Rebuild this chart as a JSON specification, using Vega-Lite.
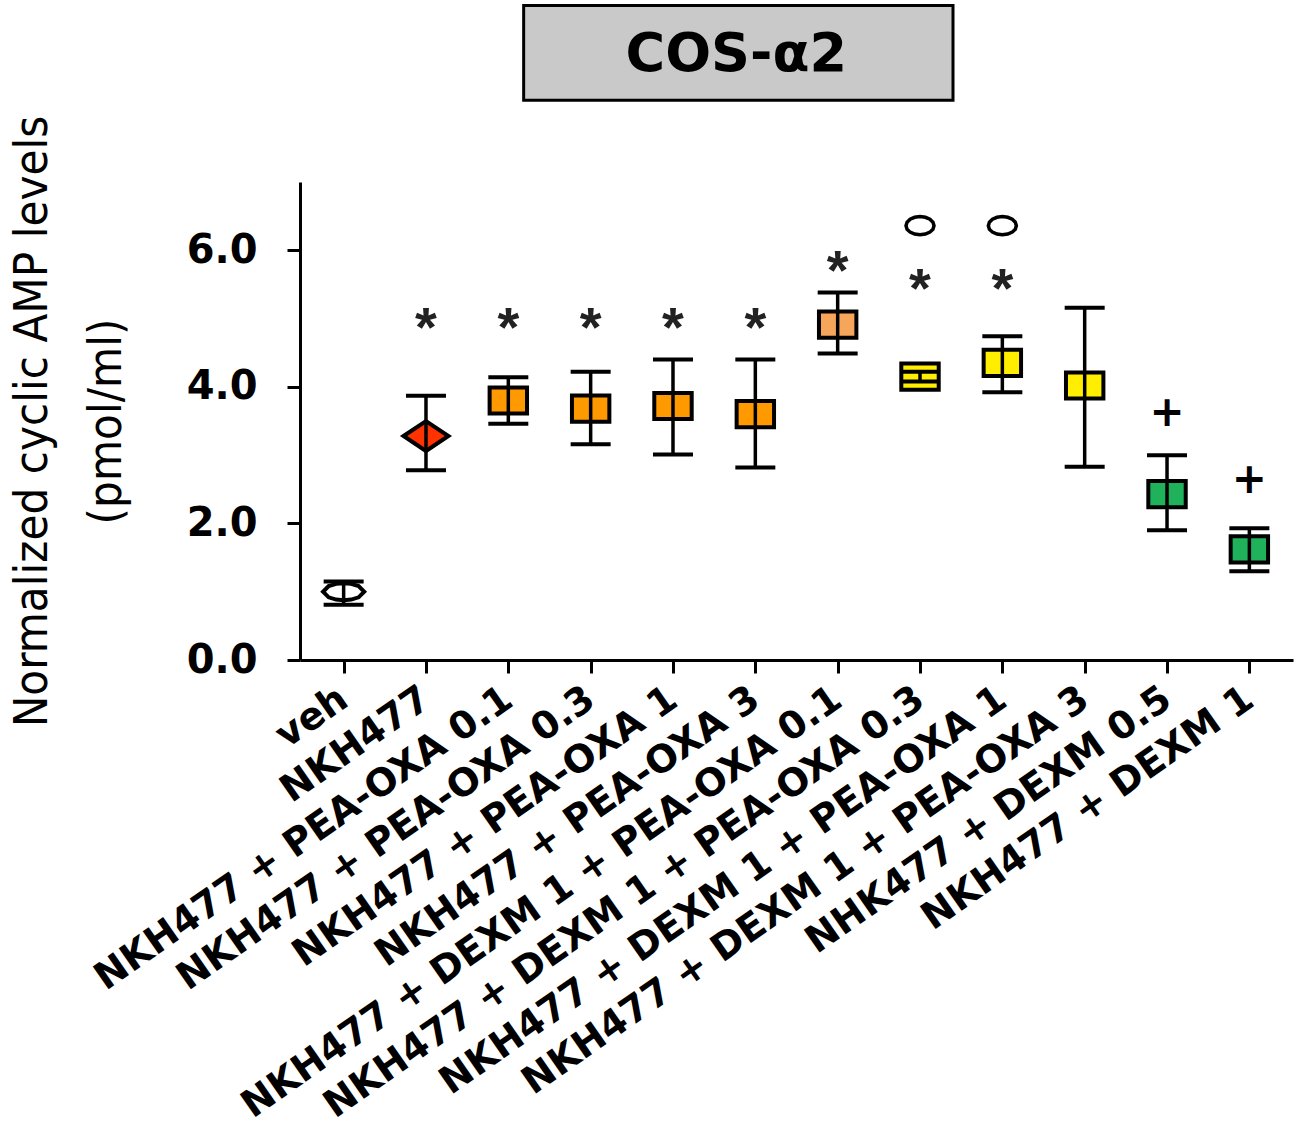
{
  "$schema": "https://vega.github.io/schema/vega-lite/v6.json",
  "autosize": "none",
  "width": 993,
  "height": 478,
  "padding": {"left": 300, "top": 182, "right": 6, "bottom": 483},
  "background": "white",
  "config": {"view": {"stroke": null}},
  "data": {
    "values": [
      {"group": "veh", "kind": "vehicle", "mean": 1.0, "lo": 0.81, "hi": 1.15},
      {"group": "NKH477", "kind": "forskolin", "mean": 3.28, "lo": 2.78, "hi": 3.87, "star": 5.03},
      {"group": "NKH477 + PEA-OXA 0.1", "kind": "pea", "mean": 3.8, "lo": 3.46, "hi": 4.14, "star": 5.03},
      {"group": "NKH477 + PEA-OXA 0.3", "kind": "pea", "mean": 3.68, "lo": 3.16, "hi": 4.22, "star": 5.03},
      {"group": "NKH477 + PEA-OXA 1", "kind": "pea", "mean": 3.72, "lo": 3.01, "hi": 4.4, "star": 5.03},
      {"group": "NKH477 + PEA-OXA 3", "kind": "pea", "mean": 3.6, "lo": 2.82, "hi": 4.4, "star": 5.03},
      {"group": "NKH477 + DEXM 1 + PEA-OXA 0.1", "kind": "dexm_pea_low", "mean": 4.91, "lo": 4.49, "hi": 5.38, "star": 5.86},
      {"group": "NKH477 + DEXM 1 + PEA-OXA 0.3", "kind": "dexm_pea", "mean": 4.15, "lo": 4.08, "hi": 4.22, "star": 5.6, "circle": 6.36},
      {"group": "NKH477 + DEXM 1 + PEA-OXA 1", "kind": "dexm_pea", "mean": 4.35, "lo": 3.92, "hi": 4.74, "star": 5.6, "circle": 6.36},
      {"group": "NKH477 + DEXM 1 + PEA-OXA 3", "kind": "dexm_pea", "mean": 4.02, "lo": 2.83, "hi": 5.16},
      {"group": "NHK477 + DEXM 0.5", "kind": "dexm", "mean": 2.43, "lo": 1.9, "hi": 3.0, "plus": 3.62},
      {"group": "NKH477 + DEXM 1", "kind": "dexm", "mean": 1.62, "lo": 1.3, "hi": 1.93, "plus": 2.64}
    ]
  },
  "encoding": {
    "x": {
      "field": "group",
      "type": "nominal",
      "sort": null,
      "scale": {"type": "point", "padding": 0.53},
      "axis": {
        "orient": "bottom",
        "title": null,
        "domainColor": "black",
        "domainWidth": 3,
        "tickColor": "black",
        "tickWidth": 3,
        "tickSize": 13,
        "labelAngle": -35,
        "labelAlign": "right",
        "labelBaseline": "middle",
        "labelFont": "DejaVu Sans",
        "labelFontWeight": "bold",
        "labelFontSize": 38,
        "labelColor": "black",
        "labelPadding": 22,
        "labelLimit": 2000,
        "labelOverlap": false
      }
    }
  },
  "layer": [
    {
      "mark": {"type": "point", "filled": true, "stroke": "black", "strokeWidth": 4, "size": 1400, "opacity": 1},
      "encoding": {
        "y": {
          "field": "mean",
          "type": "quantitative",
          "scale": {"domain": [0, 7], "nice": false},
          "axis": {
            "values": [0, 2, 4, 6],
            "format": ".1f",
            "grid": false,
            "domainColor": "black",
            "domainWidth": 3,
            "tickColor": "black",
            "tickWidth": 3,
            "tickSize": 13,
            "labelFont": "DejaVu Sans",
            "labelFontWeight": "bold",
            "labelFontSize": 40,
            "labelColor": "black",
            "labelPadding": 30,
            "title": ["Normalized cyclic AMP levels", "(pmol/ml)"],
            "titleFont": "DejaVu Sans Condensed, Liberation Sans, sans-serif",
            "titleFontWeight": "normal",
            "titleFontSize": 47,
            "titleColor": "black",
            "titleLineHeight": 74,
            "titlePadding": 56
          }
        },
        "fill": {
          "field": "kind",
          "type": "nominal",
          "legend": null,
          "scale": {
            "domain": ["vehicle", "forskolin", "pea", "dexm_pea_low", "dexm_pea", "dexm"],
            "range": ["#ffffff", "#ff3300", "#ff9900", "#f6a65a", "#ffee00", "#1fb25a"]
          }
        },
        "shape": {
          "field": "kind",
          "type": "nominal",
          "legend": null,
          "scale": {
            "domain": ["vehicle", "forskolin", "pea", "dexm_pea_low", "dexm_pea", "dexm"],
            "range": [
              "M-1.1,0L-0.8,-0.3L-0.4,-0.42L0,-0.45L0.4,-0.42L0.8,-0.3L1.1,0L0.8,0.3L0.4,0.42L0,0.45L-0.4,0.42L-0.8,0.3Z",
              "M-1.2,0L0,-0.8L1.2,0L0,0.8Z",
              "M-1,-0.7L1,-0.7L1,0.7L-1,0.7Z",
              "M-1,-0.7L1,-0.7L1,0.7L-1,0.7Z",
              "M-1,-0.7L1,-0.7L1,0.7L-1,0.7Z",
              "M-1,-0.7L1,-0.7L1,0.7L-1,0.7Z"
            ]
          }
        }
      }
    },
    {
      "mark": {"type": "rule", "color": "black", "strokeWidth": 3.5, "opacity": 1},
      "encoding": {
        "y": {"field": "lo", "type": "quantitative"},
        "y2": {"field": "hi"}
      }
    },
    {
      "mark": {"type": "tick", "color": "black", "thickness": 4, "size": 40, "orient": "horizontal", "opacity": 1},
      "encoding": {"y": {"field": "lo", "type": "quantitative"}}
    },
    {
      "mark": {"type": "tick", "color": "black", "thickness": 4, "size": 40, "orient": "horizontal", "opacity": 1},
      "encoding": {"y": {"field": "hi", "type": "quantitative"}}
    },
    {
      "transform": [{"filter": "isValid(datum.star)"}],
      "mark": {"type": "text", "text": "*", "font": "Liberation Sans", "fontWeight": "bold", "fontSize": 56, "baseline": "middle", "dy": 12, "color": "#222222"},
      "encoding": {"y": {"field": "star", "type": "quantitative"}}
    },
    {
      "transform": [{"filter": "isValid(datum.circle)"}],
      "mark": {
        "type": "point",
        "shape": "M1,0L0.924,0.249L0.707,0.46L0.383,0.6L0,0.65L-0.383,0.6L-0.707,0.46L-0.924,0.249L-1,0L-0.924,-0.249L-0.707,-0.46L-0.383,-0.6L0,-0.65L0.383,-0.6L0.707,-0.46L0.924,-0.249Z",
        "filled": false,
        "stroke": "black",
        "strokeWidth": 3.5,
        "size": 784,
        "opacity": 1
      },
      "encoding": {"y": {"field": "circle", "type": "quantitative"}}
    },
    {
      "transform": [{"filter": "isValid(datum.plus)"}],
      "mark": {"type": "text", "text": "+", "font": "DejaVu Sans", "fontWeight": "bold", "fontSize": 42, "baseline": "middle", "color": "black"},
      "encoding": {"y": {"field": "plus", "type": "quantitative"}}
    },
    {
      "data": {"values": [{"title": "COS-α2"}]},
      "mark": {"type": "rect", "fill": "#c9c9c9", "stroke": "black", "strokeWidth": 3, "xOffset": -67, "x2Offset": 33},
      "encoding": {
        "x": {"datum": "NKH477 + PEA-OXA 0.3"},
        "x2": {"datum": "NKH477 + DEXM 1 + PEA-OXA 0.3"},
        "y": {"datum": 9.586, "type": "quantitative"},
        "y2": {"datum": 8.196}
      }
    },
    {
      "data": {"values": [{"title": "COS-α2"}]},
      "mark": {"type": "text", "font": "DejaVu Sans", "fontWeight": "bold", "fontSize": 54, "baseline": "middle", "align": "center", "color": "black", "xOffset": -19},
      "encoding": {
        "x": {"datum": "NKH477 + PEA-OXA 3"},
        "y": {"datum": 8.86, "type": "quantitative"},
        "text": {"field": "title"}
      }
    }
  ]
}
